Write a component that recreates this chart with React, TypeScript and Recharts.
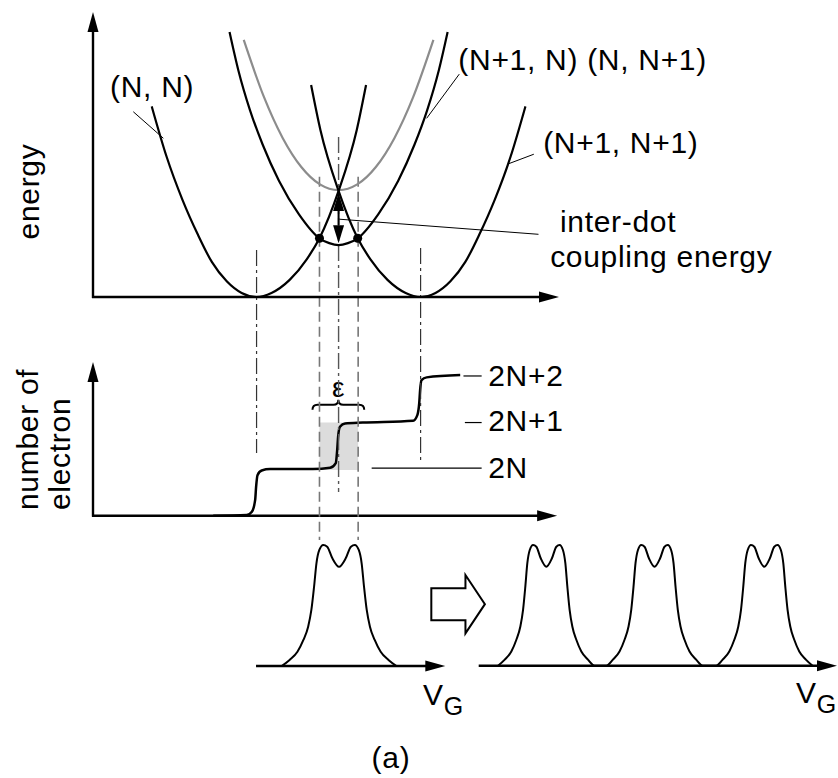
import React from 'react';
import { LineChart, Line, XAxis, YAxis, ReferenceLine, ReferenceDot, ReferenceArea } from 'recharts';

const W = 838;
const H = 778;
const FONT = '"Liberation Sans", Arial, Helvetica, sans-serif';

// ===== Energy panel: gate voltage (0..100) vs energy (0..100)
const nnV = [12.6, 15.8, 19.2, 22.5, 25.5, 28.7, 31.9, 35.1, 38.3, 42.2, 45.9, 48.6, 52.7, 56.6, 58.6];
const nnE = [66.9, 49.2, 34.1, 21.9, 12.3, 5.5, 1.4, 0, 1.4, 6.0, 13.3, 20.6, 37.2, 58.6, 74.4];
const n1n1V = [46.8, 48.8, 52.7, 56.8, 59.5, 63.2, 67.1, 70.3, 73.5, 76.7, 79.9, 82.9, 86.2, 89.6, 92.8];
const n1n1E = [74.4, 58.6, 37.2, 20.6, 13.3, 6.0, 1.4, 0, 1.4, 5.5, 12.3, 21.9, 34.1, 49.2, 66.9];
const mixLowV = [29.3, 31.2, 33.7, 36.4, 39.9, 44.2, 48.6, 50.7, 52.7, 54.7, 56.8, 61.2, 65.5, 69.0, 71.7, 74.2, 76.1];
const mixLowE = [93, 79.5, 65.5, 53.5, 40.8, 29, 20.6, 18.9, 18.2, 18.9, 20.6, 29, 40.8, 53.5, 65.5, 79.5, 93];
const mixHighV = [32.35, 36.7, 40.7, 44.7, 48.7, 50.7, 52.7, 54.7, 56.7, 60.7, 64.7, 68.7, 73.05];
const mixHighE = [90.2, 70.1, 55.8, 45.6, 39.5, 38.0, 37.5, 38.0, 39.5, 45.6, 55.8, 70.1, 90.2];
const crossDotsV = [48.6, 56.8];
const crossDotsE = [20.6, 20.6];
const couplingV = 52.7;
const couplingE = [36.5, 18.9];

// vertical guide lines (in energy-panel units, extending downward)
const sideGuideV = [35.1, 70.3];
const sideGuideFrom = [16.5, 17.2];
const sideGuideTo = [-54.7, -58.2];
const centerGuideV = 52.7;
const centerGuideRange = [56.1, -68.4];
const dashGuideV = [48.6, 56.9];
const dashGuideRange = [42.2, -85.3];

// ===== Electron number panel: gate voltage vs electron level (0 = axis, 1 = 2N, 2 = 2N+1, 3 = 2N+2)
const stairV = [25.8, 33.0, 34.1, 34.8, 35.0, 35.3, 36.2, 38.0, 44.4, 47.2, 50.9, 52.1, 52.4, 52.6, 53.0, 54.1, 57.9, 68.7, 69.6, 70.0, 70.2, 70.5, 71.6, 78.8];
const stairN = [0, 0.015, 0.086, 0.34, 0.62, 0.87, 0.97, 1.0, 1.0, 1.0, 1.03, 1.13, 1.41, 1.70, 1.91, 1.98, 2.0, 2.04, 2.16, 2.41, 2.70, 2.91, 2.97, 3.02];
const levelTicks = ['2N', '2N+1', '2N+2'];
const levelValues = [1.0, 2.0, 3.0];

// ===== Conductance peaks: profile of one double peak (offset from centre, relative height)
const peakDx = [-12.32, -10.61, -8.93, -7.65, -6.63, -5.94, -5.36, -4.85, -4.23, -3.39, -2.55, -1.43, 0];
const peakH = [0, 0.05, 0.118, 0.215, 0.325, 0.463, 0.655, 0.849, 0.959, 1, 0.986, 0.89, 0.82];
const leftPeakCentres = [52.8];
const rightPeakCentres = [17.0, 44.6, 72.6];

type Ann = { x: number; y: number; text: string; sub?: string; anchor?: 'start' | 'middle' | 'end'; rotate?: number; size?: number };

const energyLabels: Ann[] = [
  { x: -11.5, y: 37.0, text: 'energy', anchor: 'middle', rotate: -90 },
  { x: 3.65, y: 70.2, text: '(N, N)' },
  { x: 78.4, y: 79.6, text: '(N+1, N) (N, N+1)' },
  { x: 96.6, y: 50.4, text: '(N+1, N+1)' },
  { x: 100.2, y: 22.7, text: 'inter-dot' },
  { x: 98.1, y: 10.6, text: 'coupling energy' },
];
const energyLeaders = [
  [8.65, 65.0, 15.1, 55.7],
  [78.6, 78.2, 71.6, 62.7],
  [94.6, 50.1, 89.1, 46.7],
  [52.85, 27.3, 95.6, 22.0],
];

const electronLabels: Ann[] = [
  { x: -11.75, y: 0.122, text: 'number of', anchor: 'start', rotate: -90 },
  { x: -4.94, y: 0.122, text: 'electron', anchor: 'start', rotate: -90 },
  { x: 84.8, y: 2.785, text: levelTicks[2] },
  { x: 84.8, y: 1.82, text: levelTicks[1] },
  { x: 84.8, y: 0.8, text: levelTicks[0] },
  { x: 52.7, y: 2.55, text: 'ε', anchor: 'middle', size: 28 },
];
const levelLeaderStart = [59.8, 79.8, 79.5];
const levelLeaderEnd = 83.4;

const leftBottomLabels: Ann[] = [
  { x: 70.8, y: -0.322, text: 'V', sub: 'G' },
  { x: 63.95, y: -0.843, text: '(a)', anchor: 'middle' },
];
const rightBottomLabels: Ann[] = [{ x: 80.7, y: -0.308, text: 'V', sub: 'G' }];

const pts = (xs: number[], ys: number[]) => xs.map((x, i) => ({ x, y: ys[i] }));
const buildPeaks = (centres: number[]) => {
  const out: { x: number; y: number }[] = [];
  centres.forEach((c) => {
    peakDx.forEach((d, i) => out.push({ x: c + d, y: peakH[i] }));
    for (let i = peakDx.length - 2; i >= 0; i--) out.push({ x: c - peakDx[i], y: peakH[i] });
  });
  return out;
};

// ---------- shapes ----------
const ArrowLine = (p: any) => {
  const { x1, y1, x2, y2, stroke, strokeWidth } = p;
  const L = 20, hw = 5.5;
  const dx = x2 - x1, dy = y2 - y1, len = Math.hypot(dx, dy) || 1;
  const ux = dx / len, uy = dy / len;
  const bx = x2 - ux * L, by = y2 - uy * L;
  const nx = -uy * hw, ny = ux * hw;
  return (
    <g>
      <line x1={x1 - ux} y1={y1 - uy} x2={bx + ux * 2} y2={by + uy * 2} stroke={stroke} strokeWidth={strokeWidth} />
      <polygon points={`${x2},${y2} ${bx + nx},${by + ny} ${bx - nx},${by - ny}`} fill={stroke} />
    </g>
  );
};

const DoubleArrow = (p: any) => {
  const { x1, y1, x2, y2, stroke, strokeWidth } = p;
  const L = 18, hw = 5.5;
  const dx = x2 - x1, dy = y2 - y1, len = Math.hypot(dx, dy) || 1;
  const ux = dx / len, uy = dy / len;
  const nx = -uy * hw, ny = ux * hw;
  const b1x = x1 + ux * L, b1y = y1 + uy * L;
  const b2x = x2 - ux * L, b2y = y2 - uy * L;
  return (
    <g>
      <line x1={b1x} y1={b1y} x2={b2x} y2={b2y} stroke={stroke} strokeWidth={strokeWidth} />
      <polygon points={`${x1},${y1} ${b1x + nx},${b1y + ny} ${b1x - nx},${b1y - ny}`} fill={stroke} />
      <polygon points={`${x2},${y2} ${b2x + nx},${b2y + ny} ${b2x - nx},${b2y - ny}`} fill={stroke} />
    </g>
  );
};

const Brace = (p: any) => {
  const { x1, x2, y1 } = p;
  const xm = (x1 + x2) / 2;
  const d = 5;
  const path = `M${x1},${y1 + d} Q${x1},${y1} ${x1 + d},${y1} L${xm - d},${y1} Q${xm},${y1} ${xm},${y1 - d} Q${xm},${y1} ${xm + d},${y1} L${x2 - d},${y1} Q${x2},${y1} ${x2},${y1 + d}`;
  return <path d={path} fill="none" stroke="#000" strokeWidth={2} />;
};

const HollowArrow = (p: any) => {
  const { x, y, width: w, height: h } = p;
  const sx = x + 0.637 * w;
  const t = y + 0.228 * h;
  const b = y + 0.777 * h;
  const q = [[x, t], [sx, t], [sx, y], [x + w, y + h / 2], [sx, y + h], [sx, b], [x, b]];
  return <polygon points={q.map((v) => v.join(',')).join(' ')} fill="#fff" stroke="#000" strokeWidth={2} />;
};

const textShape = (a: Ann) => (p: any) => {
  const { cx, cy } = p;
  return (
    <text
      x={cx}
      y={cy}
      textAnchor={a.anchor ?? 'start'}
      transform={a.rotate ? `rotate(${a.rotate} ${cx} ${cy})` : undefined}
      fontFamily={FONT}
      fontSize={a.size ?? 30}
      fill="#000"
      style={{ letterSpacing: '0.7px' }}
    >
      {a.text}
      {a.sub ? (
        <tspan fontSize={25} dy={10}>
          {a.sub}
        </tspan>
      ) : null}
    </text>
  );
};

const renderLabels = (labels: Ann[], key: string) =>
  labels.map((a, i) => (
    <ReferenceDot key={`${key}${i}`} x={a.x} y={a.y} r={0} ifOverflow="visible" shape={textShape(a)} />
  ));

const axisArrow = (key: string, from: [number, number], to: [number, number]) => (
  <ReferenceLine
    key={key}
    segment={[{ x: from[0], y: from[1] }, { x: to[0], y: to[1] }]}
    ifOverflow="visible"
    stroke="#000"
    strokeWidth={2.4}
    shape={ArrowLine}
  />
);

const layer: React.CSSProperties = { position: 'absolute', left: 0, top: 0 };
const curve = { type: 'monotone' as const, dot: false, activeDot: false, isAnimationActive: false, dataKey: 'y' };

function EnergyChart() {
  return (
    <LineChart width={W} height={H} margin={{ top: 12, right: 279, bottom: 481, left: 93 }}>
      <XAxis type="number" dataKey="x" domain={[0, 100]} hide />
      <YAxis type="number" domain={[0, 100]} hide />
      {sideGuideV.map((v, i) => (
        <ReferenceLine key={`sg${i}`} segment={[{ x: v, y: sideGuideFrom[i] }, { x: v, y: sideGuideTo[i] }]} ifOverflow="visible" stroke="#333" strokeWidth={1.2} strokeDasharray="16 4 3 4" />
      ))}
      <ReferenceLine segment={[{ x: centerGuideV, y: centerGuideRange[0] }, { x: centerGuideV, y: centerGuideRange[1] }]} ifOverflow="visible" stroke="#555" strokeWidth={1.4} strokeDasharray="16 4 3 4" />
      {dashGuideV.map((v, i) => (
        <ReferenceLine key={`dg${i}`} segment={[{ x: v, y: dashGuideRange[0] }, { x: v, y: dashGuideRange[1] }]} ifOverflow="visible" stroke="#777" strokeWidth={1.6} strokeDasharray="10 5" />
      ))}
      {axisArrow('ey', [0, 0], [0, 100])}
      {axisArrow('ex', [0, 0], [100, 0])}
      <Line {...curve} data={pts(mixHighV, mixHighE)} stroke="#8c8c8c" strokeWidth={2.2} />
      <Line {...curve} data={pts(nnV, nnE)} stroke="#000" strokeWidth={2.2} />
      <Line {...curve} data={pts(n1n1V, n1n1E)} stroke="#000" strokeWidth={2.2} />
      <Line {...curve} data={pts(mixLowV, mixLowE)} stroke="#000" strokeWidth={2.2} />
      {energyLeaders.map((l, i) => (
        <ReferenceLine key={`el${i}`} segment={[{ x: l[0], y: l[1] }, { x: l[2], y: l[3] }]} ifOverflow="visible" stroke="#000" strokeWidth={1} />
      ))}
      <ReferenceLine segment={[{ x: couplingV, y: couplingE[0] }, { x: couplingV, y: couplingE[1] }]} ifOverflow="visible" stroke="#000" strokeWidth={2} shape={DoubleArrow} />
      {crossDotsV.map((v, i) => (
        <ReferenceDot key={`cd${i}`} x={v} y={crossDotsE[i]} r={4.5} fill="#000" stroke="none" ifOverflow="visible" />
      ))}
      {renderLabels(energyLabels, 'elab')}
    </LineChart>
  );
}

function ElectronChart() {
  return (
    <LineChart width={W} height={H} margin={{ top: 362, right: 279, bottom: 262.3, left: 93 }}>
      <XAxis type="number" dataKey="x" domain={[0, 100]} hide />
      <YAxis type="number" domain={[0, 3.3]} hide />
      <ReferenceArea x1={48.6} x2={56.9} y1={0.98} y2={2.0} fill="#dcdcdc" fillOpacity={1} stroke="none" ifOverflow="visible" />
      {axisArrow('ny', [0, 0], [0, 3.3])}
      {axisArrow('nx', [0, 0], [99.6, 0])}
      <Line {...curve} data={pts(stairV, stairN)} stroke="#000" strokeWidth={2.5} />
      {levelValues.map((n, i) => (
        <ReferenceLine key={`lv${i}`} segment={[{ x: levelLeaderStart[i], y: n + (i === 0 ? 0.02 : 0) }, { x: levelLeaderEnd, y: n + (i === 0 ? 0.02 : 0) }]} ifOverflow="visible" stroke="#000" strokeWidth={1.2} />
      ))}
      <ReferenceLine segment={[{ x: 47.1, y: 2.38 }, { x: 58.2, y: 2.38 }]} ifOverflow="visible" stroke="#000" shape={Brace} />
      {renderLabels(electronLabels, 'nlab')}
    </LineChart>
  );
}

function LeftPeakChart() {
  return (
    <LineChart width={W} height={H} margin={{ top: 545, right: 279, bottom: 112, left: 93 }}>
      <XAxis type="number" dataKey="x" domain={[0, 100]} hide />
      <YAxis type="number" domain={[0, 1]} hide />
      {axisArrow('lx', [35.2, 0], [75.6, 0])}
      <Line {...curve} data={buildPeaks(leftPeakCentres)} stroke="#000" strokeWidth={2} />
      <ReferenceArea x1={72.6} x2={84.1} y1={0.27} y2={0.752} ifOverflow="visible" shape={HollowArrow} />
      {renderLabels(leftBottomLabels, 'lb')}
    </LineChart>
  );
}

function RightPeakChart() {
  return (
    <LineChart width={W} height={H} margin={{ top: 545, right: 1, bottom: 112.3, left: 479.7 }}>
      <XAxis type="number" dataKey="x" domain={[0, 91.15]} hide />
      <YAxis type="number" domain={[0, 1]} hide />
      {axisArrow('rx', [0, 0], [91.15, 0])}
      <Line {...curve} data={buildPeaks(rightPeakCentres)} stroke="#000" strokeWidth={2} />
      {renderLabels(rightBottomLabels, 'rb')}
    </LineChart>
  );
}

export default function App() {
  return (
    <div style={{ position: 'absolute', left: 0, top: 0, width: W, height: H, background: '#fff', overflow: 'hidden' }}>
      <div style={layer}>
        <ElectronChart />
      </div>
      <div style={layer}>
        <LeftPeakChart />
      </div>
      <div style={layer}>
        <RightPeakChart />
      </div>
      <div style={layer}>
        <EnergyChart />
      </div>
    </div>
  );
}
